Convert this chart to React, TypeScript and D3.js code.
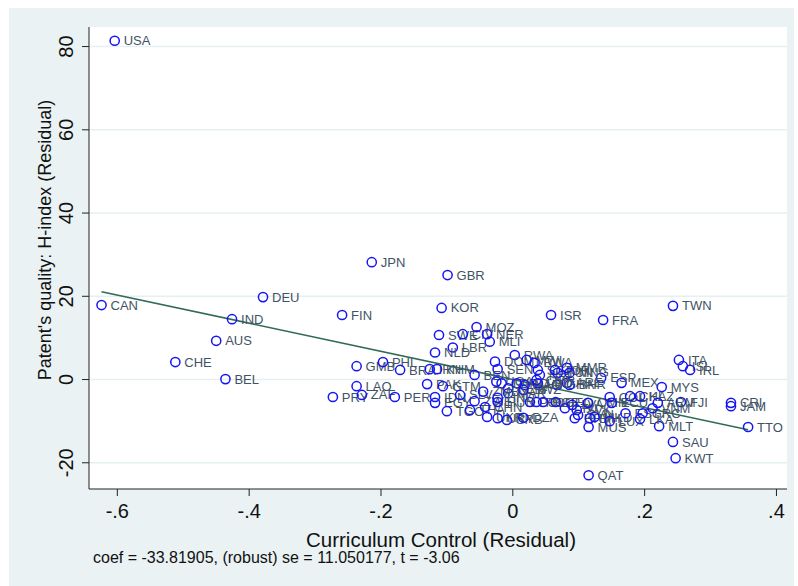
import React from "react";
import * as d3 from "d3";

// Country codes with their partial residuals (added-variable plot)
const countries = [
  "USA", "CAN", "DEU", "JPN", "GBR", "KOR", "FIN", "IND", "AUS", "CHE", "BEL",
  "TWN", "ISR", "FRA", "ITA", "ISL", "IRL", "MYS", "MEX", "ESP", "FJI", "CRI",
  "JAM", "TTO", "MLT", "SAU", "KWT", "QAT", "MUS", "GMB", "PHL", "BRA", "IRN",
  "KHM", "LAO", "PRY", "ZAF", "PER", "PAK", "GTM", "IDN", "EGY", "TGO", "SLV",
  "ZWE", "SWE", "CIV", "MOZ", "NER", "MLI", "LBR", "NLD", "RWA", "DOM", "SEN",
  "BEN", "MWI", "BWA", "SGP", "NPL", "JOR", "TUN", "MMR", "MNG", "GHA", "ARE",
  "BHR", "UGA", "TZA", "KEN", "IRQ", "NAM", "LSO", "MAR", "SWZ", "CMR", "ZMB",
  "THA", "CHN", "HUN", "UKR", "URY", "SRB", "DZA", "POL", "ROU", "BGR", "GEO",
  "LTU", "LVA", "SVK", "SVN", "HRV", "OMN", "BIH", "MKD", "COL", "ECU", "LUX",
  "EST", "CHL", "KAZ", "GRC", "LKA", "VNM", "ARM", "HND",
];

// Curriculum Control (Residual)
const curriculumControl = [
  -0.604, -0.624, -0.379, -0.214, -0.099, -0.108, -0.259, -0.426, -0.45, -0.512, -0.436,
  0.243, 0.058, 0.137, 0.252, 0.258, 0.269, 0.226, 0.165, 0.134, 0.255, 0.331,
  0.331, 0.357, 0.222, 0.243, 0.247, 0.115, 0.115, -0.237, -0.197, -0.171, -0.126,
  -0.115, -0.237, -0.273, -0.229, -0.179, -0.13, -0.106, -0.118, -0.118, -0.1, -0.08,
  -0.058, -0.112, -0.076, -0.055, -0.039, -0.035, -0.091, -0.118, 0.003, -0.027, -0.023,
  -0.058, 0.021, 0.033, 0.038, 0.041, 0.064, 0.068, 0.082, 0.086, 0.067, 0.082,
  0.086, -0.025, -0.017, -0.007, 0.006, 0.018, 0.038, -0.007, 0.016, 0.036, -0.045,
  -0.065, -0.042, -0.023, -0.039, -0.023, -0.009, 0.016, 0.026, 0.036, 0.046, 0.065,
  0.079, 0.09, 0.097, 0.099, 0.094, 0.114, 0.117, 0.124, 0.147, 0.15, 0.147,
  0.171, 0.178, 0.193, 0.197, 0.193, 0.212, 0.22, -0.023,
];

// Patent's quality: H-index (Residual)
const hIndex = [
  81.4, 17.9, 19.8, 28.2, 25.1, 17.2, 15.5, 14.5, 9.3, 4.2, 0.1,
  17.7, 15.5, 14.3, 4.7, 3.2, 2.3, -1.8, -0.8, 0.4, -5.4, -5.6,
  -6.4, -11.4, -11.2, -15.0, -18.9, -23.0, -11.4, 3.2, 4.2, 2.3, 2.5,
  2.5, -1.6, -4.2, -3.7, -4.2, -1.1, -1.6, -4.2, -5.6, -7.6, -3.7,
  -5.2, 10.7, 10.9, 12.6, 10.9, 9.1, 7.7, 6.5, 5.9, 4.3, 2.5,
  1.1, 4.7, 4.0, 2.3, 1.1, 2.3, 1.6, 2.8, 1.6, -1.3, -0.8,
  -1.3, -0.5, -0.9, -2.1, -0.9, -1.3, -0.9, -3.3, -2.5, -0.1, -2.9,
  -7.3, -6.6, -5.4, -9.0, -9.3, -9.7, -9.2, -5.4, -5.4, -5.4, -5.4,
  -6.9, -6.1, -7.3, -8.5, -9.3, -5.6, -9.3, -9.0, -4.2, -5.6, -10.0,
  -8.1, -4.0, -4.0, -8.1, -9.5, -6.9, -5.6, -4.4,
];

const xTicks = [-0.6, -0.4, -0.2, 0, 0.2, 0.4];
const xTickLabels = ["-.6", "-.4", "-.2", "0", ".2", ".4"];
const yTicks = [-20, 0, 20, 40, 60, 80];

const fitCoef = -33.81905;
const fitIntercept = 0;

const xTitle = "Curriculum Control (Residual)";
const yTitle = "Patent's quality: H-index (Residual)";
const footnote = "coef = -33.81905, (robust) se = 11.050177, t = -3.06";

const FONT = "'Liberation Sans', Arial, sans-serif";

export default function App() {
  const W = 798;
  const H = 586;
  const plot = { left: 89, right: 787, top: 27, bottom: 489 };

  const x = d3.scaleLinear().domain([-0.643, 0.416]).range([plot.left, plot.right]);
  const y = d3.scaleLinear().domain([-26.3, 84.7]).range([plot.bottom, plot.top]);

  const points = countries.map((c, i) => ({ c, x: curriculumControl[i], y: hIndex[i] }));
  const [xmin, xmax] = d3.extent(curriculumControl) as [number, number];
  const fitPath = d3
    .line<number>()
    .x((d) => x(d))
    .y((d) => y(fitIntercept + fitCoef * d))([xmin, xmax]);

  return (
    <div style={{ position: "fixed", left: 0, top: 0, width: W, height: H }}>
      <svg width={W} height={H} style={{ display: "block" }} fontFamily={FONT}>
        <rect x={0} y={0} width={W} height={H} fill="#ffffff" />
        <rect x={9} y={8} width={785} height={H - 8} fill="#EAF2F3" />
        <rect
          x={plot.left}
          y={plot.top}
          width={plot.right - plot.left}
          height={plot.bottom - plot.top}
          fill="#ffffff"
        />

        {/* horizontal grid */}
        {yTicks.map((t) => (
          <line
            key={"g" + t}
            x1={plot.left}
            x2={plot.right}
            y1={y(t)}
            y2={y(t)}
            stroke="#E6EFF1"
            strokeWidth={1.4}
          />
        ))}

        {/* axes */}
        <line x1={plot.left} x2={plot.left} y1={plot.top} y2={plot.bottom} stroke="#222" strokeWidth={1} />
        <line x1={plot.left} x2={plot.right} y1={plot.bottom} y2={plot.bottom} stroke="#222" strokeWidth={1} />

        {yTicks.map((t) => (
          <g key={"yt" + t}>
            <line x1={plot.left - 7} x2={plot.left} y1={y(t)} y2={y(t)} stroke="#222" />
            <text
              transform={`translate(${plot.left - 16},${y(t)}) rotate(-90)`}
              textAnchor="middle"
              fontSize={20}
              fill="#111"
            >
              {t}
            </text>
          </g>
        ))}

        {xTicks.map((t, i) => (
          <g key={"xt" + t}>
            <line x1={x(t)} x2={x(t)} y1={plot.bottom} y2={plot.bottom + 7} stroke="#222" />
            <text x={x(t)} y={plot.bottom + 29} textAnchor="middle" fontSize={20} fill="#111">
              {xTickLabels[i]}
            </text>
          </g>
        ))}

        <text
          x={(plot.left + plot.right) / 2 + 3}
          y={plot.bottom + 58}
          textAnchor="middle"
          fontSize={20.5}
          fill="#111"
        >
          {xTitle}
        </text>
        <text
          transform={`translate(51,${(plot.top + plot.bottom) / 2 - 18}) rotate(-90)`}
          textAnchor="middle"
          fontSize={18}
          fill="#111"
        >
          {yTitle}
        </text>
        <text x={93} y={563} fontSize={16} fill="#111">
          {footnote}
        </text>

        {/* fitted line */}
        <path d={fitPath ?? ""} fill="none" stroke="#2F6B58" strokeWidth={1.6} />

        {/* markers and labels */}
        {points.map((p) => (
          <g key={p.c}>
            <circle cx={x(p.x)} cy={y(p.y)} r={4.6} fill="none" stroke="#1515F5" strokeWidth={1.5} />
            <text
              x={x(p.x) + 9}
              y={y(p.y)}
              dy="0.35em"
              fontSize={13}
              fill="#3F5366"
            >
              {p.c}
            </text>
          </g>
        ))}
      </svg>
    </div>
  );
}
